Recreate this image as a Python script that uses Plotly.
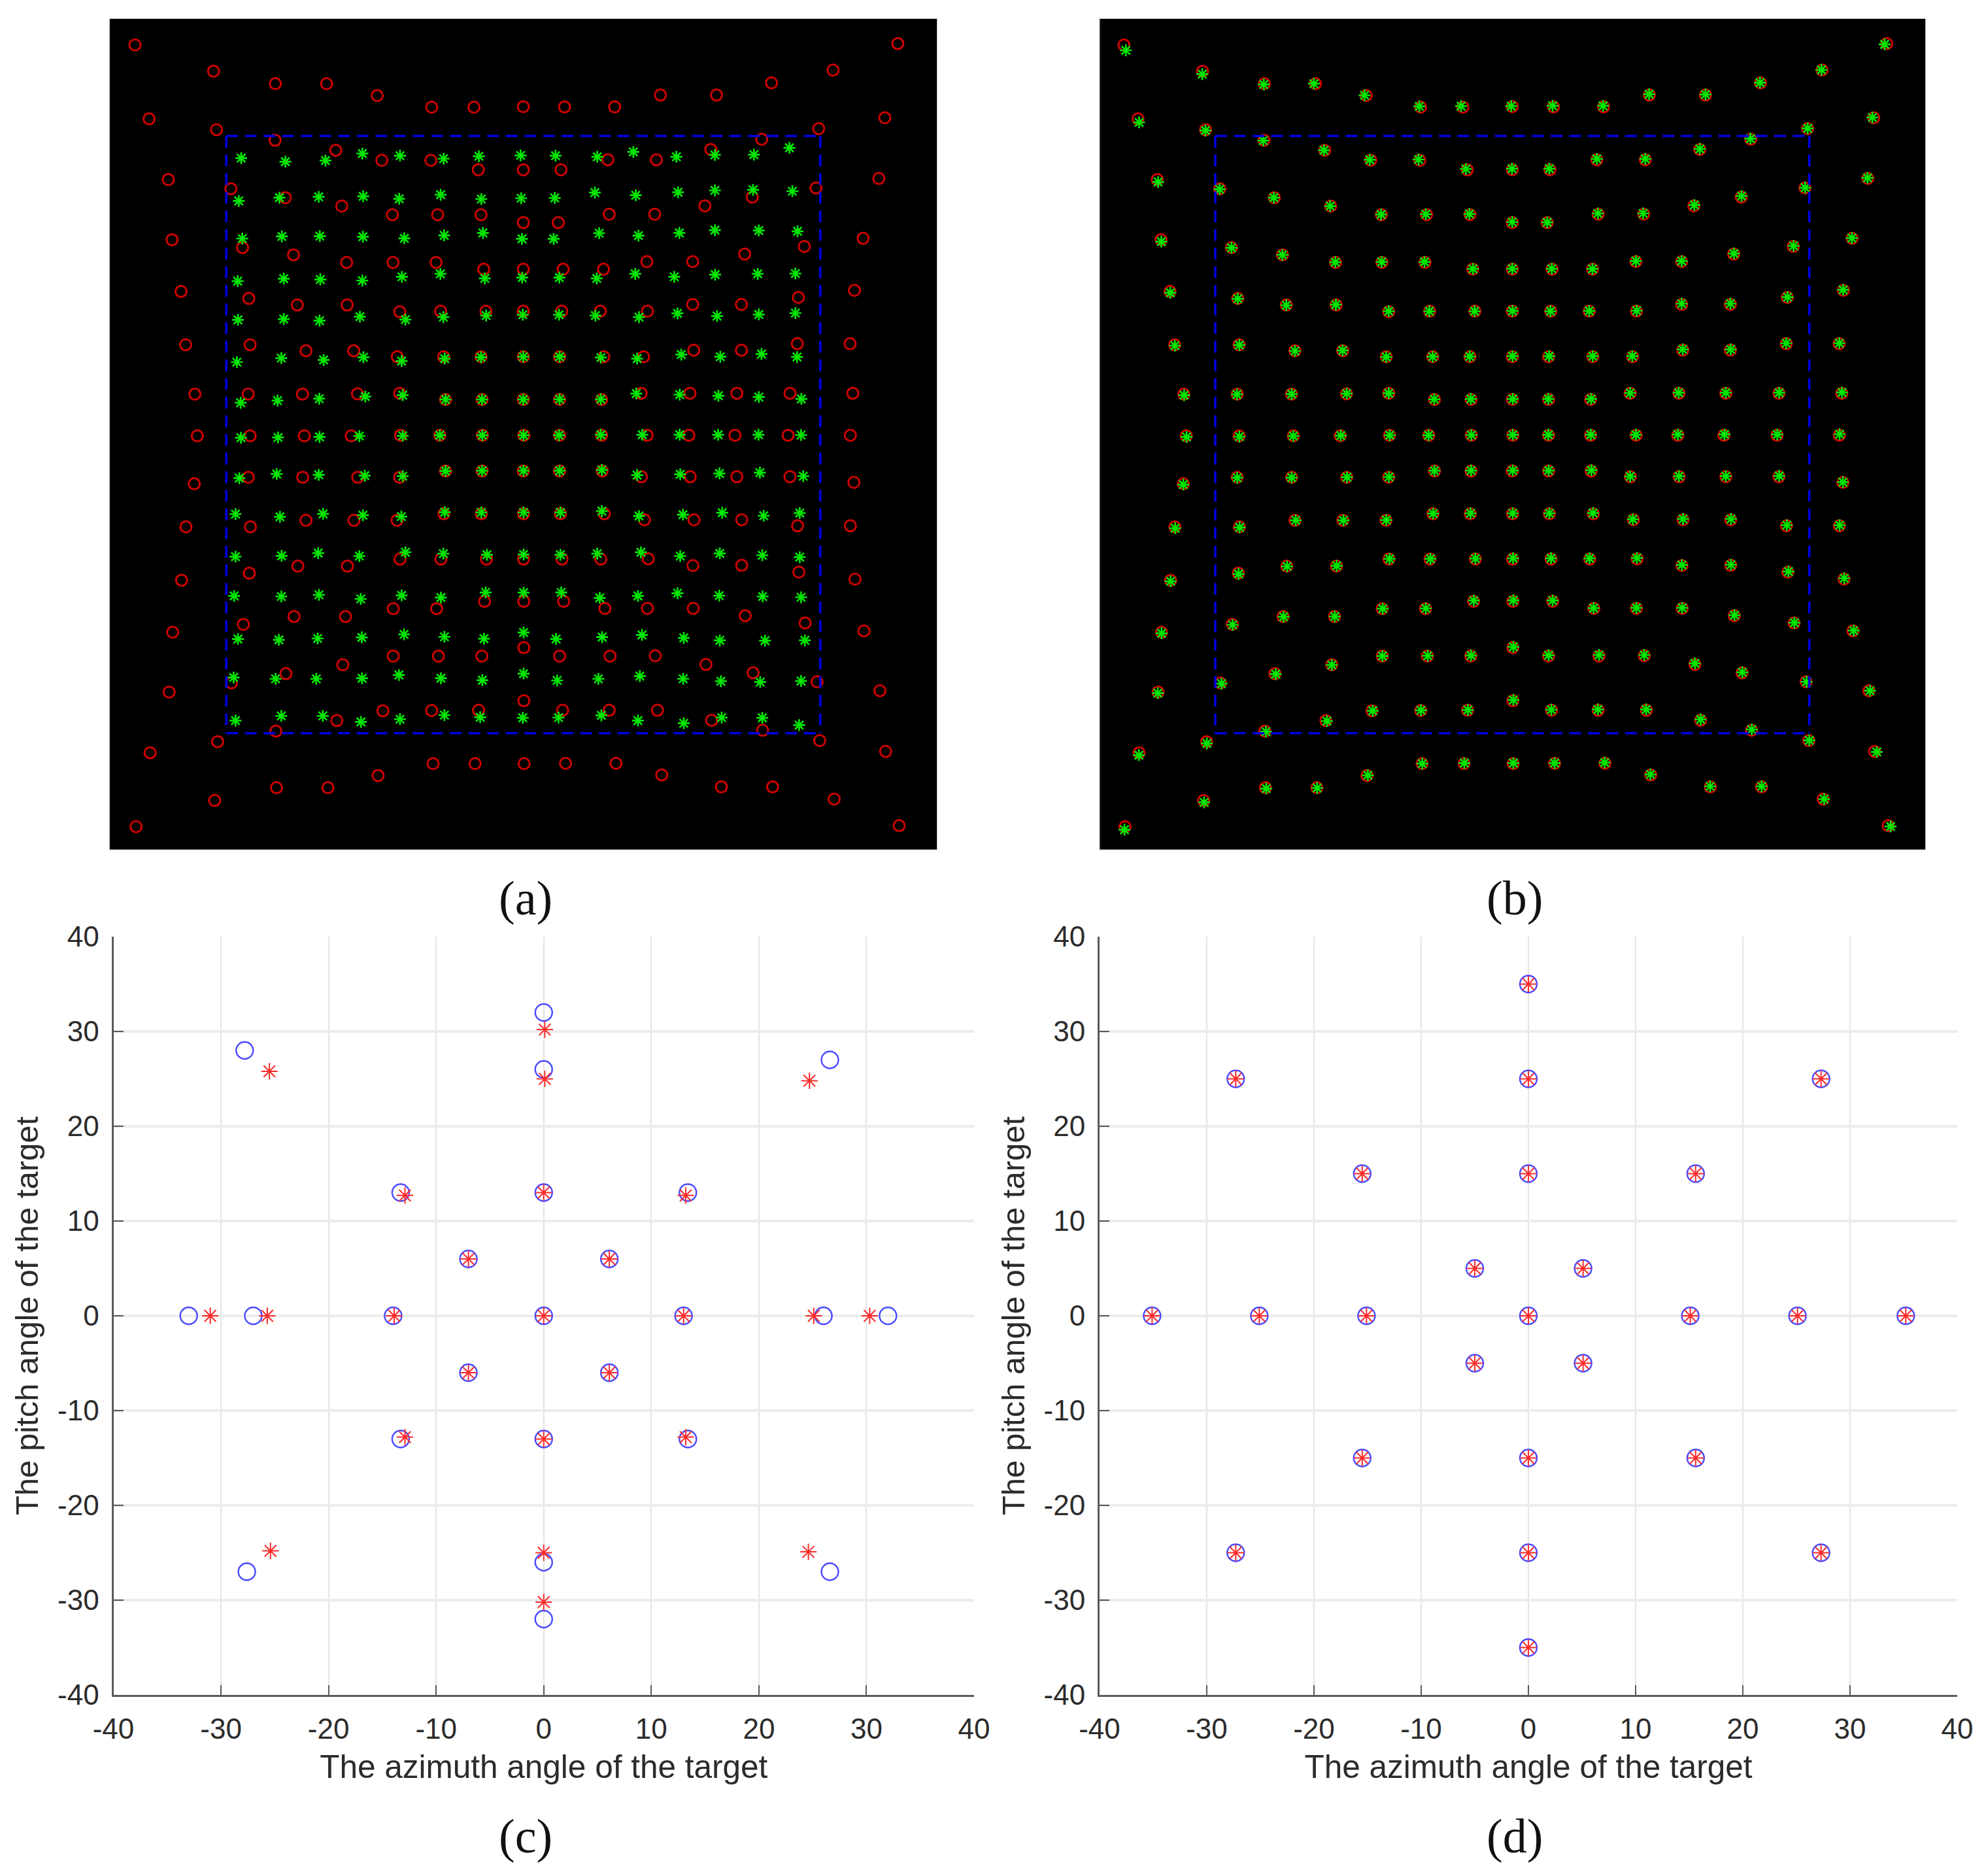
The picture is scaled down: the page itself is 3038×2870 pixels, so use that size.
import plotly.graph_objects as go

W, H = 3038, 2870

# Image-plane coordinates (arbitrary sensor units) for panels (a) and (b)
red_x = [
 [112,402,630,819,1006,1207,1363,1545,1697,1882,2051,2258,2461,2688,2927],
 [164,413,629,853,1023,1204,1379,1545,1684,1857,2036,2237,2425,2635,2879],
 [235,466,667,875,1062,1229,1389,1545,1674,1862,2030,2215,2390,2625,2857],
 [249,509,697,893,1064,1223,1399,1545,1692,1841,2001,2170,2362,2582,2799],
 [282,532,711,895,1089,1240,1407,1545,1687,1829,2003,2170,2350,2560,2767],
 [299,537,743,919,1080,1251,1389,1545,1679,1842,1989,2174,2350,2556,2751],
 [333,530,730,933,1089,1258,1393,1545,1679,1834,1980,2160,2333,2529,2761],
 [342,537,737,910,1092,1237,1394,1547,1679,1834,2002,2156,2326,2522,2752],
 [331,530,731,934,1089,1258,1393,1545,1679,1836,1981,2161,2333,2529,2765],
 [300,538,743,920,1079,1252,1390,1546,1682,1844,1992,2175,2351,2557,2752],
 [284,534,713,896,1090,1241,1409,1546,1688,1831,2006,2171,2351,2562,2769],
 [251,512,699,889,1065,1225,1402,1547,1694,1846,2003,2172,2364,2585,2802],
 [238,468,669,879,1065,1232,1392,1547,1679,1865,2032,2219,2393,2629,2861],
 [168,417,632,857,1027,1207,1380,1547,1690,1862,2040,2240,2428,2639,2882],
 [116,406,634,824,1009,1212,1367,1548,1701,1887,2056,2276,2465,2692,2932],
]
red_y = [
 [117,214,260,260,304,347,347,345,346,346,302,302,257,210,112],
 [390,430,469,506,543,543,578,578,578,541,541,503,465,426,386],
 [614,648,681,712,744,744,744,773,773,742,742,711,679,645,610],
 [836,865,892,920,920,920,945,945,945,945,917,917,889,861,831],
 [1027,1053,1077,1077,1102,1100,1100,1100,1100,1100,1100,1075,1075,1049,1023],
 [1224,1224,1246,1246,1268,1268,1268,1268,1268,1268,1268,1244,1244,1220,1220],
 [1406,1406,1406,1405,1403,1426,1426,1426,1426,1426,1403,1403,1403,1403,1403],
 [1560,1560,1560,1560,1558,1558,1558,1558,1558,1558,1558,1558,1558,1558,1558],
 [1737,1713,1713,1713,1713,1690,1690,1690,1690,1690,1711,1711,1711,1711,1732],
 [1896,1896,1872,1872,1872,1848,1848,1848,1848,1848,1870,1870,1870,1892,1892],
 [2093,2067,2041,2041,2015,2015,2015,2015,2015,2015,2014,2039,2038,2063,2089],
 [2285,2256,2227,2227,2198,2198,2171,2171,2171,2197,2197,2197,2224,2251,2280],
 [2506,2472,2438,2405,2373,2373,2373,2342,2373,2373,2372,2404,2435,2468,2501],
 [2730,2689,2650,2611,2575,2574,2573,2538,2573,2573,2573,2610,2647,2685,2725],
 [3003,2906,2859,2859,2814,2770,2770,2770,2769,2769,2812,2856,2856,2901,2999],
]
green_a_x = [
 [504,667,815,951,1090,1251,1381,1535,1664,1818,1951,2110,2252,2396,2527],
 [495,645,790,954,1087,1240,1390,1537,1661,1809,1960,2116,2252,2393,2538],
 [508,654,794,953,1106,1253,1396,1540,1657,1825,1970,2121,2252,2414,2557],
 [491,661,796,951,1097,1239,1403,1541,1678,1816,1958,2102,2253,2410,2549],
 [492,661,793,942,1110,1250,1408,1543,1677,1811,1972,2114,2260,2414,2549],
 [488,652,808,955,1096,1255,1389,1545,1679,1831,1965,2128,2272,2424,2555],
 [502,638,792,962,1100,1258,1393,1545,1679,1831,1962,2122,2265,2414,2571],
 [503,640,793,940,1100,1237,1394,1546,1677,1831,1984,2122,2264,2413,2570],
 [497,635,790,960,1100,1258,1393,1546,1679,1835,1965,2124,2269,2418,2578],
 [483,647,806,953,1095,1255,1390,1546,1682,1835,1972,2134,2279,2432,2565],
 [483,653,788,940,1110,1250,1411,1546,1682,1818,1979,2124,2270,2427,2565],
 [478,652,791,945,1096,1241,1406,1546,1685,1827,1968,2114,2268,2428,2570],
 [492,643,786,949,1105,1254,1400,1546,1666,1836,1983,2137,2270,2437,2584],
 [476,631,781,950,1086,1241,1394,1546,1670,1822,1975,2135,2274,2419,2570],
 [483,652,805,946,1090,1254,1386,1543,1675,1833,1968,2137,2277,2427,2563],
]
green_a_y = [
 [535,548,544,518,526,537,528,525,526,530,512,530,523,522,497],
 [693,681,678,676,685,670,686,683,682,662,672,661,654,652,657],
 [832,824,823,825,831,820,811,833,833,812,821,811,801,802,805],
 [989,980,983,987,973,962,979,976,976,979,962,973,965,962,961],
 [1132,1129,1135,1120,1131,1122,1116,1113,1113,1116,1122,1108,1118,1112,1107],
 [1288,1273,1280,1270,1284,1275,1270,1268,1268,1271,1275,1260,1268,1258,1269],
 [1438,1430,1423,1415,1410,1426,1426,1426,1425,1425,1404,1408,1412,1417,1424],
 [1567,1566,1564,1561,1560,1558,1558,1558,1558,1556,1556,1556,1556,1556,1557],
 [1716,1701,1704,1707,1709,1690,1689,1689,1689,1686,1705,1702,1699,1696,1709],
 [1849,1859,1848,1853,1858,1842,1843,1843,1843,1838,1856,1851,1844,1855,1845],
 [2006,2003,1993,2004,1990,1995,1999,1998,1999,1995,1990,2004,1994,2001,2008],
 [2151,2153,2147,2162,2149,2157,2138,2139,2138,2158,2151,2141,2150,2153,2156],
 [2310,2313,2308,2304,2293,2302,2309,2286,2310,2303,2295,2306,2315,2316,2315],
 [2452,2457,2457,2455,2443,2455,2462,2438,2463,2457,2447,2457,2466,2469,2465],
 [2611,2594,2594,2616,2606,2591,2599,2601,2600,2592,2611,2621,2600,2601,2628],
]
green_b_x = [
 [119,401,628,813,1000,1202,1356,1541,1694,1880,2050,2258,2459,2686,2919],
 [168,413,626,850,1019,1199,1374,1544,1682,1857,2036,2237,2424,2635,2874],
 [238,465,665,873,1061,1226,1387,1545,1674,1861,2028,2217,2391,2626,2856],
 [250,509,697,892,1063,1221,1400,1545,1691,1841,2001,2170,2363,2583,2798],
 [283,532,711,894,1089,1239,1406,1546,1686,1829,2004,2170,2350,2561,2766],
 [300,538,743,919,1080,1251,1388,1546,1681,1842,1988,2174,2351,2556,2752],
 [334,529,731,934,1089,1257,1392,1547,1678,1836,1980,2159,2333,2530,2762],
 [343,538,737,912,1093,1236,1394,1547,1678,1835,2001,2156,2328,2523,2753],
 [331,530,731,935,1090,1258,1393,1547,1679,1837,1980,2160,2333,2530,2765],
 [301,539,746,922,1080,1253,1391,1547,1682,1843,1990,2175,2352,2558,2753],
 [284,535,714,897,1092,1243,1409,1548,1688,1830,2005,2171,2352,2564,2770],
 [251,513,701,890,1067,1226,1403,1549,1694,1845,2003,2172,2365,2586,2805],
 [237,472,672,879,1066,1233,1393,1549,1679,1865,2032,2219,2394,2631,2865],
 [167,418,636,861,1030,1208,1381,1549,1689,1861,2039,2240,2429,2641,2890],
 [114,408,637,825,1012,1213,1368,1549,1701,1886,2055,2275,2465,2696,2941],
]
green_b_y = [
 [137,225,263,260,303,344,343,343,342,342,299,300,256,209,115],
 [403,433,470,506,541,540,575,574,574,538,538,501,463,425,385],
 [623,650,681,712,743,742,741,771,772,739,739,708,675,644,608],
 [843,866,892,919,918,918,944,943,943,944,915,915,887,859,830],
 [1032,1054,1078,1076,1100,1100,1100,1099,1100,1099,1098,1072,1072,1048,1021],
 [1227,1225,1247,1245,1269,1268,1267,1266,1266,1266,1266,1241,1241,1218,1218],
 [1410,1407,1406,1404,1403,1425,1424,1424,1424,1424,1402,1401,1401,1401,1400],
 [1564,1563,1561,1559,1558,1558,1557,1556,1556,1556,1556,1555,1555,1555,1554],
 [1740,1715,1714,1713,1712,1689,1688,1688,1688,1687,1710,1709,1709,1708,1731],
 [1901,1898,1872,1872,1871,1847,1846,1846,1846,1845,1868,1867,1867,1890,1890],
 [2097,2070,2042,2040,2014,2014,2013,2012,2012,2012,2011,2037,2036,2061,2086],
 [2289,2258,2228,2227,2198,2197,2168,2167,2168,2196,2195,2195,2222,2250,2279],
 [2510,2475,2440,2406,2373,2372,2371,2339,2370,2369,2369,2400,2433,2468,2501],
 [2739,2695,2652,2613,2575,2573,2572,2535,2571,2570,2570,2607,2644,2684,2727],
 [3014,2913,2862,2860,2813,2770,2768,2768,2768,2766,2810,2854,2854,2901,3002],
]
# Dashed reference rectangle, one side at a time
rect_x = [449, 2641, None, 2641, 2641, None, 449, 2641, None, 449, 449]
rect_y = [453, 453, None, 453, 2658, None, 2658, 2658, None, 453, 2658]

# Panel (c)
c_blue_x = [-33,-27,-14,0,13,26,32,0,0,0,0,0,0,-27.8,26.6,-27.6,26.6,-13.3,13.4,-13.3,13.4,-7,6.1,-7,6.1]
c_blue_y = [0,0,0,0,0,0,0,32,26,13,-13,-26,-32,28,27,-27,-27,13,13,-13,-13,6,6,-6,-6]
c_red_x = [-31,-25.7,-13.9,0,13,25.1,30.3,0.1,0.1,0,0,0,0,-25.5,24.7,-25.4,24.6,-12.9,13.2,-12.9,13.2,-7,6.1,-7,6.1]
c_red_y = [0,0,0,0,0,0,0,30.2,25,13,-13,-25,-30.2,25.8,24.8,-24.8,-24.9,12.7,12.7,-12.8,-12.8,6,6,-6,-6]
# Panel (d)
d_blue_x = [-35.1,-25.1,-15.1,0,15.1,25.1,35.2,0,0,0,0,0,0,-27.3,27.3,-27.3,27.3,-15.5,15.6,-15.5,15.6,-5,5.1,-5,5.1]
d_blue_y = [0,0,0,0,0,0,0,35,25,15,-15,-25,-35,25,25,-25,-25,15,15,-15,-15,5,5,-5,-5]
d_red_x = [-35.1,-25.1,-15.1,0,15.1,25.1,35.2,0,0,0,0,0,0,-27.3,27.3,-27.3,27.3,-15.5,15.6,-15.5,15.6,-5,5.1,-5,5.1]
d_red_y = [0,0,0,0,0,0,0,35,25,15,-15,-25,-35,25,25,-25,-25,15,15,-15,-15,5,5,-5,-5]

ticks = [-40,-30,-20,-10,0,10,20,30,40]
x_title = "The azimuth angle of the target"
y_title = "The pitch angle of the target"
panel_labels = ["(a)", "(b)", "(c)", "(d)"]

def flat(rows):
    return [v for r in rows for v in r]

def dx(a, b):
    return [a / W, b / W]

def dy(top, bottom):
    return [1 - bottom / H, 1 - top / H]

fig = go.Figure()

def image_panel(ax, gx, gy):
    fig.add_trace(go.Scatter(x=flat(red_x), y=flat(red_y), mode="markers", xaxis="x" + ax, yaxis="y" + ax,
        marker=dict(symbol="circle-open", size=17, color="#cc0000", line=dict(width=3, color="#cc0000"))))
    fig.add_trace(go.Scatter(x=flat(gx), y=flat(gy), mode="markers", xaxis="x" + ax, yaxis="y" + ax,
        marker=dict(symbol="asterisk-open", size=15, color="#00e600", line=dict(width=2.7, color="#00e600"))))
    fig.add_trace(go.Scatter(x=rect_x, y=rect_y, mode="lines", xaxis="x" + ax, yaxis="y" + ax,
        line=dict(color="#0000e0", width=3.6, dash="18px,10.5px")))

def angle_panel(ax, bx, by, rx, ry):
    fig.add_trace(go.Scatter(x=bx, y=by, mode="markers", xaxis="x" + ax, yaxis="y" + ax,
        marker=dict(symbol="circle-open", size=26, color="#4a4aff", line=dict(width=2.4, color="#4a4aff"))))
    fig.add_trace(go.Scatter(x=rx, y=ry, mode="markers", xaxis="x" + ax, yaxis="y" + ax,
        marker=dict(symbol="asterisk-open", size=21, color="#ff2a2a", line=dict(width=2, color="#ff2a2a"))))

image_panel("", green_a_x, green_a_y)
image_panel("2", green_b_x, green_b_y)
angle_panel("3", c_blue_x, c_blue_y, c_red_x, c_red_y)
angle_panel("4", d_blue_x, d_blue_y, d_red_x, d_red_y)

hidden = dict(visible=False, fixedrange=True, automargin=False)
tick_font = dict(family="Liberation Sans", size=44, color="#2b2b2b")

def angle_x(domain, anchor):
    return dict(domain=domain, anchor=anchor, range=[-40, 40], tickvals=ticks, ticktext=[str(t) for t in ticks],
                automargin=False,
                showgrid=True, gridcolor="#e4e4e4", gridwidth=2, zeroline=False,
                showline=True, linecolor="#5a5a5a", linewidth=3, ticks="inside", ticklen=15, tickwidth=2,
                tickcolor="#5a5a5a", tickfont=tick_font, ticklabelstandoff=11,
                title=dict(text=x_title, font=dict(family="Liberation Sans", size=49.5, color="#2b2b2b"), standoff=18))

def angle_y(domain, anchor):
    return dict(domain=domain, anchor=anchor, range=[-40, 40], tickvals=ticks, ticktext=[str(t) for t in ticks],
                automargin=False,
                showgrid=True, gridcolor="#ececec", gridwidth=4, zeroline=False,
                showline=True, linecolor="#5a5a5a", linewidth=3, ticks="inside", ticklen=15, tickwidth=2,
                tickcolor="#5a5a5a", tickfont=tick_font, ticklabelstandoff=10,
                title=dict(text=y_title, font=dict(family="Liberation Sans", size=49, color="#2b2b2b"), standoff=14))

annots = []
for label, cx, cy in zip(panel_labels, [804, 2317, 804, 2317], [1374, 1374, 2809, 2809]):
    annots.append(dict(text=label, x=cx / W, y=1 - cy / H, xref="paper", yref="paper", showarrow=False,
                       xanchor="center", yanchor="middle",
                       font=dict(family="Liberation Serif", size=74, color="#111111")))

fig.update_layout(
    width=W, height=H, autosize=False, showlegend=False,
    margin=dict(l=0, r=0, t=0, b=0, pad=0), paper_bgcolor="white", plot_bgcolor="white",
    xaxis=dict(domain=dx(167.5, 1433.5), range=[18, 3072], anchor="y", **hidden),
    yaxis=dict(domain=dy(28.5, 1300), range=[3088, 20], anchor="x", **hidden),
    xaxis2=dict(domain=dx(1682, 2945.5), range=[22, 3070], anchor="y2", **hidden),
    yaxis2=dict(domain=dy(28.5, 1300), range=[3088, 20], anchor="x2", **hidden),
    xaxis3=angle_x(dx(173.5, 1490), "y3"),
    yaxis3=angle_y(dy(1433, 2593), "x3"),
    xaxis4=angle_x(dx(1682, 2994), "y4"),
    yaxis4=angle_y(dy(1433, 2593), "x4"),
    annotations=annots,
    shapes=[
        dict(type="rect", xref="x domain", yref="y domain", x0=0, x1=1, y0=0, y1=1,
             fillcolor="black", line=dict(width=1, color="#bdbdbd"), layer="below"),
        dict(type="rect", xref="x2 domain", yref="y2 domain", x0=0, x1=1, y0=0, y1=1,
             fillcolor="black", line=dict(width=1, color="#bdbdbd"), layer="below"),
    ],
)

fig.write_html("out.html", config=dict(displayModeBar=False), post_script="document.body.style.margin='0';")
